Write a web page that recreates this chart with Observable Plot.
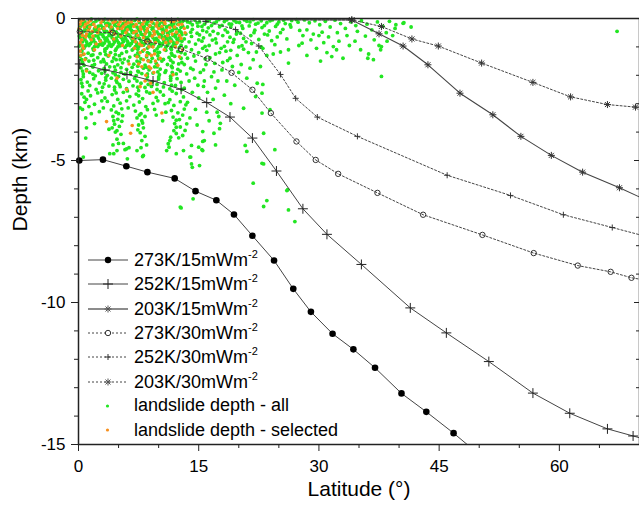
<!DOCTYPE html>
<html>
<head>
<meta charset="utf-8">
<script src="https://cdn.jsdelivr.net/npm/d3@7"></script>
<script src="https://cdn.jsdelivr.net/npm/@observablehq/plot@0.6"></script>
<style>
  body { margin: 0; background: white; }
  #wrap { position: relative; width: 639px; height: 506px; font-family: "Liberation Sans", Arial, sans-serif; }
  #legend { position: absolute; left: 86px; top: 248px; font-size: 18px; color: #000; }
  #legend .row { display: flex; align-items: center; height: 24.3px; white-space: nowrap; }
  #legend .row svg { width: 46px; height: 24px; flex: none; }
  #legend .row span.t { margin-left: 2px; }
  #legend sup { font-size: 11px; position: relative; top: -1px; }
</style>
</head>
<body>
<div id="wrap"><div id="legend"></div></div>
<script>
// ---- axis ticks ----
const xMajor = [0, 15, 30, 45, 60];
const xMinor = [5, 10, 20, 25, 35, 40, 50, 55, 65];
const yMajor = [0, -5, -10, -15];
const yMinor = [-1, -2, -3, -4, -6, -7, -8, -9, -11, -12, -13, -14];

// ---- model curves [latitude, depth km] ----
const s273K15 = [[0.1,-5],[3.05,-4.97],[5.97,-5.2],[8.6,-5.41],[12.0,-5.63],[14.6,-6.08],[17.2,-6.4],[19.4,-6.9],[21.7,-7.65],[24.4,-8.52],[26.8,-9.52],[29.0,-10.33],[31.7,-11.1],[34.3,-11.65],[37.0,-12.3],[40.3,-13.2],[43.4,-13.85],[46.8,-14.6],[50.2,-15.4]];
const s252K15 = [[0.16,-1.6],[3.3,-1.81],[6.05,-1.97],[9.3,-2.2],[12.8,-2.49],[16.0,-2.96],[18.9,-3.47],[21.7,-4.21],[24.7,-5.37],[28.0,-6.7],[31.0,-7.6],[35.3,-8.66],[41.4,-10.19],[45.9,-11.07],[51.2,-12.08],[56.7,-13.19],[61.3,-13.9],[66.0,-14.45],[69.2,-14.7],[70.5,-14.8]];
const s203K15 = [[0,-0.02],[34.1,-0.05],[37.5,-0.54],[40.5,-0.97],[43.6,-1.63],[47.6,-2.63],[51.7,-3.39],[55.2,-4.15],[59.0,-4.82],[62.9,-5.41],[67.5,-5.96],[70.5,-6.35]];
const s273K30 = [[0.16,-0.46],[4.27,-0.5],[8.6,-0.81],[12.8,-1.08],[16.1,-1.41],[19.1,-1.91],[21.7,-2.51],[24.0,-3.33],[27.2,-4.33],[29.6,-4.98],[32.4,-5.47],[37.3,-6.14],[43.0,-6.91],[50.4,-7.62],[56.8,-8.26],[62.3,-8.7],[66.4,-8.92],[69.0,-9.13],[70.5,-9.2]];
const s252K30 = [[0,-0.05],[11.6,-0.07],[15.9,-0.1],[19.6,-0.39],[22.5,-0.97],[25.2,-1.97],[27.1,-2.81],[29.8,-3.47],[34.8,-4.15],[46.0,-5.52],[53.9,-6.23],[60.5,-6.91],[66.6,-7.36],[70.5,-7.65]];
const s203K30 = [[0,-0.02],[34.1,-0.05],[37.8,-0.28],[41.6,-0.72],[44.9,-0.97],[50.3,-1.57],[56.7,-2.25],[61.4,-2.76],[66.0,-3.03],[69.5,-3.12],[70.5,-3.15]];

// ---- landslide depths ----
const landslideAll = [
[0.2,-0.05],[0.8,-0.12],[1.4,-0.07],[1.9,-0.15],[2.5,-0.04],[3.1,-0.1],[3.6,-0.16],[4.2,-0.06],[4.8,-0.13],[5.3,-0.03],[5.9,-0.11],[6.5,-0.17],[7.0,-0.07],[7.6,-0.14],[8.2,-0.05],[8.7,-0.1],[9.3,-0.16],[9.9,-0.06],[10.4,-0.12],[11.0,-0.04],[11.6,-0.15],[12.1,-0.08],[12.7,-0.13],
[0.5,-0.17],[1.6,-0.02],[2.2,-0.09],[3.3,-0.03],[3.9,-0.2],[4.5,-0.15],[5.6,-0.18],[6.2,-0.05],[7.3,-0.02],[7.9,-0.19],[8.4,-0.13],[9.6,-0.02],[10.1,-0.19],[10.7,-0.15],[11.3,-0.06],[11.9,-0.18],[12.4,-0.03],[13.0,-0.1],
[0.5,-0.22],[1.1,-0.28],[1.7,-0.2],[2.2,-0.31],[2.8,-0.24],[3.4,-0.19],[3.9,-0.29],[4.5,-0.23],[5.1,-0.32],[5.6,-0.2],[6.2,-0.27],[6.8,-0.22],[7.3,-0.3],[7.9,-0.25],[8.5,-0.19],[9.0,-0.28],[9.6,-0.23],[10.2,-0.31],[10.7,-0.21],[11.3,-0.26],[11.9,-0.3],[12.4,-0.2],[13.0,-0.27],
[0.2,-0.3],[0.8,-0.33],[1.4,-0.25],[2.0,-0.36],[2.5,-0.27],[3.1,-0.32],[3.7,-0.24],[4.2,-0.34],[4.8,-0.28],[5.4,-0.26],[5.9,-0.33],[6.5,-0.29],[7.0,-0.25],[7.6,-0.34],[8.2,-0.28],[8.8,-0.24],[9.3,-0.33],[9.9,-0.27],[10.5,-0.35],[11.0,-0.3],[11.6,-0.24],[12.2,-0.36],[12.8,-0.31],
[0.1,-0.37],[0.7,-0.44],[1.3,-0.35],[1.8,-0.46],[2.4,-0.39],[3.0,-0.34],[3.5,-0.45],[4.1,-0.38],[4.7,-0.47],[5.2,-0.36],[5.8,-0.42],[6.4,-0.35],[6.9,-0.46],[7.5,-0.4],[8.1,-0.34],[8.6,-0.44],[9.2,-0.38],[9.8,-0.47],[10.3,-0.36],[10.9,-0.41],[11.5,-0.45],[12.0,-0.35],[12.6,-0.42],
[0.4,-0.47],[1.0,-0.42],[1.5,-0.52],[2.1,-0.44],[2.6,-0.5],[3.2,-0.42],[3.8,-0.5],[4.3,-0.43],[4.9,-0.54],[5.5,-0.45],[6.0,-0.49],[6.6,-0.41],[7.2,-0.52],[7.7,-0.46],[8.3,-0.42],[8.9,-0.51],[9.4,-0.44],[10.0,-0.55],[10.5,-0.46],[11.1,-0.5],[11.7,-0.42],[12.2,-0.54],[12.8,-0.48],
[0.4,-0.52],[1.0,-0.59],[1.6,-0.5],[2.1,-0.61],[2.7,-0.54],[3.3,-0.49],[3.8,-0.6],[4.4,-0.53],[5.0,-0.62],[5.5,-0.51],[6.1,-0.57],[6.7,-0.5],[7.2,-0.61],[7.8,-0.55],[8.4,-0.49],[8.9,-0.59],[9.5,-0.53],[10.1,-0.62],[10.6,-0.51],[11.2,-0.56],[11.8,-0.6],[12.3,-0.5],[12.9,-0.57],
[0.1,-0.62],[0.7,-0.66],[1.3,-0.58],[1.8,-0.7],[2.4,-0.62],[3.0,-0.57],[3.5,-0.68],[4.1,-0.61],[4.7,-0.69],[5.2,-0.58],[5.8,-0.65],[6.3,-0.58],[6.9,-0.69],[7.4,-0.63],[8.0,-0.57],[8.6,-0.67],[9.1,-0.6],[9.7,-0.7],[10.3,-0.58],[10.8,-0.64],[11.4,-0.68],[12.0,-0.58],[12.6,-0.65],
[0.2,-0.67],[0.8,-0.74],[1.4,-0.65],[1.9,-0.76],[2.5,-0.69],[3.1,-0.64],[3.6,-0.75],[4.2,-0.68],[4.8,-0.77],[5.3,-0.66],[5.9,-0.72],[6.5,-0.65],[7.0,-0.76],[7.6,-0.7],[8.2,-0.64],[8.7,-0.74],[9.3,-0.68],[9.9,-0.77],[10.4,-0.66],[11.0,-0.71],[11.6,-0.75],[12.1,-0.65],[12.7,-0.72],
[0.4,-0.78],[1.0,-0.82],[1.6,-0.73],[2.1,-0.85],[2.7,-0.77],[3.3,-0.72],[3.8,-0.83],[4.4,-0.76],[5.0,-0.85],[5.5,-0.74],[6.1,-0.8],[6.7,-0.73],[7.2,-0.84],[7.8,-0.78],[8.4,-0.72],[8.9,-0.82],[9.5,-0.76],[10.1,-0.85],[10.6,-0.74],[11.2,-0.79],[11.8,-0.83],[12.3,-0.73],[12.9,-0.8],
[0.5,-0.82],[1.1,-0.89],[1.7,-0.8],[2.2,-0.91],[2.8,-0.84],[3.4,-0.79],[3.9,-0.9],[4.5,-0.83],[5.1,-0.92],[5.6,-0.81],[6.2,-0.87],[6.8,-0.8],[7.3,-0.91],[7.9,-0.85],[8.5,-0.79],[9.0,-0.89],[9.6,-0.83],[10.2,-0.92],[10.7,-0.81],[11.3,-0.86],[11.9,-0.9],[12.4,-0.8],
[0.2,-0.92],[0.9,-0.96],[1.5,-0.88],[2.0,-0.99],[2.6,-0.92],[3.2,-0.87],[3.7,-0.97],[4.3,-0.91],[4.9,-1.0],[5.4,-0.89],[6.0,-0.95],[6.6,-0.88],[7.1,-0.99],[7.7,-0.93],[8.3,-0.87],[8.8,-0.97],[9.4,-0.91],[10.0,-0.99],[10.5,-0.88],[11.1,-0.94],[11.7,-0.97],[12.2,-0.87],[12.8,-0.94],
[0.1,-0.97],[0.7,-1.04],[1.3,-0.95],[1.8,-1.06],[2.4,-0.99],[3.0,-0.94],[3.5,-1.05],[4.1,-0.98],[4.7,-1.07],[5.2,-0.96],[5.8,-1.02],[6.4,-0.95],[6.9,-1.06],[7.5,-1.0],[8.1,-0.94],[8.6,-1.04],[9.2,-0.98],[9.8,-1.07],[10.3,-0.96],[10.9,-1.01],[11.5,-1.05],[12.0,-0.95],[12.6,-1.02],
[0.4,-1.15],[1.2,-1.22],[1.9,-1.12],[2.7,-1.24],[3.3,-1.16],[4.0,-1.2],[4.6,-1.13],[5.4,-1.23],[6.0,-1.17],[6.7,-1.11],[7.4,-1.21],[8.0,-1.15],[8.8,-1.24],[9.5,-1.14],[10.1,-1.19],[10.9,-1.12],[11.6,-1.22],[12.4,-1.16],
[0.2,-1.34],[0.9,-1.41],[1.6,-1.3],[2.4,-1.38],[3.1,-1.44],[3.7,-1.32],[4.4,-1.39],[5.1,-1.31],[5.7,-1.43],[6.4,-1.36],[7.1,-1.3],[7.8,-1.42],[8.5,-1.35],[9.2,-1.4],[9.9,-1.31],[10.6,-1.44],[11.3,-1.37],[12.0,-1.33],[12.8,-1.4],
[0.5,-1.55],[1.3,-1.5],[2.0,-1.62],[2.8,-1.53],[3.5,-1.6],[4.2,-1.51],[4.9,-1.63],[5.5,-1.56],[6.2,-1.5],[6.9,-1.61],[7.6,-1.54],[8.3,-1.64],[9.0,-1.52],[9.7,-1.58],[10.4,-1.5],[11.1,-1.62],[11.8,-1.55],[12.5,-1.6],
[0.3,-1.74],[1.0,-1.8],[1.8,-1.71],[2.5,-1.84],[3.2,-1.76],[3.9,-1.7],[4.6,-1.82],[5.3,-1.73],[6.0,-1.79],[6.7,-1.72],[7.4,-1.85],[8.1,-1.75],[8.8,-1.81],[9.5,-1.7],[10.2,-1.78],[10.9,-1.84],[11.7,-1.73],[12.4,-1.79],
[0.6,-1.95],[1.4,-1.9],[2.1,-2.02],[2.9,-1.93],[3.6,-2.0],[4.3,-1.91],[5.0,-2.04],[5.8,-1.96],[6.5,-1.9],[7.2,-2.01],[7.9,-1.94],[8.6,-2.05],[9.3,-1.92],[10.1,-1.98],[10.8,-1.9],[11.5,-2.03],[12.2,-1.95],
[0.3,-2.15],[1.1,-2.24],[1.9,-2.12],[2.6,-2.27],[3.4,-2.17],[4.1,-2.1],[4.8,-2.25],[5.6,-2.14],[6.3,-2.21],[7.0,-2.11],[7.8,-2.28],[8.5,-2.16],[9.2,-2.23],[10.0,-2.13],[10.7,-2.26],[11.5,-2.18],[12.3,-2.12],
[0.5,-2.4],[1.4,-2.36],[2.2,-2.5],[3.0,-2.42],[3.8,-2.38],[4.5,-2.52],[5.2,-2.4],[6.0,-2.47],[6.8,-2.37],[7.5,-2.54],[8.3,-2.43],[9.1,-2.39],[9.8,-2.5],[10.6,-2.41],[11.4,-2.48],[12.1,-2.36],
[0.5,-1.07],[0.6,-1.26],[0.4,-1.45],[0.7,-1.65],[0.5,-1.85],[0.6,-2.05],[0.4,-2.28],[1.8,-1.28],[1.9,-1.47],[1.7,-1.66],[1.8,-1.96],[3.3,-1.08],[3.4,-1.27],[3.2,-1.52],[3.3,-1.85],[3.4,-2.08],[3.2,-2.3],[4.6,-1.27],[4.7,-1.45],[4.5,-1.7],[4.6,-1.98],[4.7,-2.18],[4.5,-2.42],[4.7,-2.62],[5.2,-1.45],[5.3,-1.9],[5.1,-2.32],
[7.4,-1.08],[7.5,-1.32],[7.3,-1.5],[7.4,-1.68],[7.5,-1.88],[7.3,-2.2],[7.4,-2.42],[7.5,-2.72],[8.6,-1.2],[8.7,-1.48],[8.5,-1.72],[8.6,-1.95],[8.7,-2.32],[8.5,-2.58],[9.9,-1.2],[10.0,-1.42],[9.8,-1.7],[9.9,-1.88],[10.0,-2.06],[9.8,-2.32],
[11.6,-1.09],[11.7,-1.29],[11.5,-1.47],[11.6,-1.68],[11.7,-1.9],[11.5,-2.1],[11.6,-2.35],[11.7,-2.56],[12.8,-1.2],[12.9,-1.55],[12.7,-1.85],[12.8,-2.25],[12.9,-2.5],
[0.4,-2.65],[1.5,-2.72],[2.4,-2.62],[3.3,-2.8],[4.2,-2.68],[4.9,-2.85],[5.6,-2.6],[6.4,-2.75],[7.2,-2.66],[8.0,-2.82],[8.9,-2.63],[9.7,-2.78],[10.6,-2.7],[11.4,-2.86],[12.2,-2.64],[13.1,-2.76],
[1.2,-2.55],[2.9,-2.58],[6.1,-2.55],[10.2,-2.58],[1.0,-2.85],[2.9,-2.9],[6.0,-2.9],[9.9,-2.9],[10.8,-3.0],[1.3,-3.1],[3.1,-3.15],[6.2,-3.15],[9.5,-3.2],[10.9,-3.3],[1.6,-3.35],
[0.8,-2.95],[2.0,-3.02],[3.6,-2.92],[4.4,-3.08],[5.2,-2.98],[6.9,-3.05],[7.6,-2.94],[8.4,-3.1],[11.2,-2.96],[11.9,-3.06],[12.7,-2.93],[13.4,-3.04],[9.3,-2.99],
[0.5,-3.2],[4.1,-3.22],[4.7,-3.3],[5.4,-3.18],[7.1,-3.26],[7.8,-3.35],[8.6,-3.21],[11.6,-3.24],[12.4,-3.32],[13.2,-3.19],[2.6,-3.28],
[4.3,-3.45],[4.9,-3.55],[5.5,-3.42],[7.3,-3.5],[7.9,-3.6],[11.8,-3.47],[12.6,-3.56],[13.0,-3.4],[0.9,-3.5],
[4.4,-3.6],[5.0,-3.35],[7.6,-3.4],[8.3,-3.45],[12.2,-3.58],[4.2,-3.85],[4.8,-3.95],[5.4,-3.62],[7.4,-3.92],[8.0,-3.68],[11.9,-3.95],[12.5,-4.2],[5.0,-4.4],[7.8,-4.55],[4.3,-4.45],[2.0,-3.7],[1.0,-3.85],[10.5,-3.6],[9.7,-3.4],
[4.5,-3.72],[5.1,-3.8],[7.5,-3.75],[8.1,-3.85],[12.0,-3.7],[12.7,-3.82],[3.8,-3.9],
[4.6,-4.0],[5.3,-4.08],[7.7,-4.02],[8.3,-4.15],[12.2,-4.05],[4.8,-4.25],[7.9,-4.3],[5.6,-4.4],[8.5,-4.45],[6.3,-4.55],
[13.3,-0.06],[13.9,-0.14],[14.5,-0.05],[15.1,-0.12],[15.7,-0.2],[16.3,-0.08],[16.9,-0.16],[17.5,-0.04],[18.2,-0.11],[18.8,-0.19],[19.4,-0.07],[20.1,-0.14],[20.7,-0.05],[21.4,-0.12],[22.1,-0.2],[22.8,-0.08],[23.5,-0.15],[24.2,-0.05],[25.0,-0.12],[25.8,-0.18],[26.6,-0.07],[27.4,-0.13],
[13.6,-0.12],[14.2,-0.22],[14.8,-0.15],[15.4,-0.28],[16.0,-0.1],[16.6,-0.25],[17.2,-0.12],[17.9,-0.24],[18.5,-0.05],[19.1,-0.2],[19.7,-0.13],[20.4,-0.26],[21.0,-0.1],[21.8,-0.04],[22.4,-0.16],[23.2,-0.25],[23.9,-0.08],[24.8,-0.2],[25.6,-0.06],[26.4,-0.22],[27.2,-0.04],
[13.6,-0.3],[14.2,-0.38],[14.9,-0.27],[15.5,-0.42],[16.2,-0.33],[16.8,-0.45],[17.6,-0.29],[18.3,-0.4],[19.0,-0.3],[19.8,-0.47],[20.5,-0.35],[21.3,-0.26],[22.0,-0.41],[22.9,-0.32],[23.8,-0.44],[24.6,-0.28],[25.5,-0.38],[26.5,-0.3],[27.6,-0.42],
[14.0,-0.48],[15.1,-0.58],[16.0,-0.47],[17.4,-0.53],[18.6,-0.48],[19.4,-0.74],[20.2,-0.52],[21.9,-0.5],[23.2,-0.55],[24.1,-0.78],[25.2,-0.5],
[13.4,-0.55],[14.1,-0.63],[14.8,-0.52],[15.6,-0.68],[16.4,-0.58],[17.1,-0.72],[18.0,-0.6],[18.9,-0.66],[19.7,-0.55],[20.6,-0.7],[21.5,-0.6],[22.5,-0.74],[23.6,-0.58],[24.8,-0.65],[26.0,-0.72],
[13.2,-0.72],[15.0,-0.75],[16.7,-0.76],[18.6,-0.82],[20.9,-0.82],[13.4,-1.0],[15.8,-0.98],[17.8,-1.05],[19.0,-1.12],[20.6,-1.08],[22.2,-1.18],
[13.8,-0.82],[14.6,-0.9],[15.4,-0.8],[16.3,-0.95],[17.2,-0.86],[18.2,-0.98],[19.3,-0.84],[20.4,-0.96],[21.6,-0.88],[22.8,-1.0],[24.5,-0.92],
[14.1,-1.1],[15.0,-1.2],[16.0,-1.12],[17.1,-1.25],[18.4,-1.15],[19.8,-1.3],[21.2,-1.2],[23.5,-1.3],[25.2,-1.18],
[13.6,-1.4],[14.6,-1.5],[15.8,-1.42],[17.0,-1.58],[18.6,-1.48],[20.3,-1.62],[14.0,-1.75],[15.2,-1.9],[16.6,-2.05],[13.8,-2.2],[14.9,-2.35],[16.1,-2.6],[18.5,-2.2],
[13.3,-1.25],[14.4,-1.32],[15.5,-1.05],[16.4,-1.38],[17.6,-1.2],[18.9,-1.4],[20.0,-1.0],[21.8,-1.45],[23.0,-1.05],[24.3,-1.25],[13.2,-1.62],[14.3,-1.8],[15.9,-1.62],[16.9,-1.88],[18.0,-1.55],[20.0,-1.9],[21.0,-2.1],[13.5,-1.95],[14.5,-2.1],[15.7,-2.2],[17.4,-2.2],[19.5,-2.35],
[13.2,-2.45],[14.2,-2.6],[15.0,-2.8],[16.8,-2.85],[18.2,-2.7],[19.0,-3.0],[13.6,-2.95],[14.6,-3.2],[16.0,-3.3],[13.9,-3.5],[14.8,-3.75],[16.3,-3.6],
[28.2,-0.05],[28.8,-0.15],[29.5,-0.08],[30.1,-0.22],[30.8,-0.1],[31.4,-0.3],[32.0,-0.06],[32.7,-0.18],[33.3,-0.35],[34.0,-0.12],[34.6,-0.25],[35.3,-0.08],[36.0,-0.2],[36.6,-0.4],[37.3,-0.12],[38.0,-0.28],[38.8,-0.1],[39.6,-0.22],
[28.5,-0.4],[29.3,-0.55],[30.4,-0.48],[31.2,-0.65],[32.3,-0.5],[33.5,-0.6],[34.8,-0.45],[35.8,-0.62],[29.0,-0.75],[30.6,-0.85],[32.5,-0.8],[29.7,-1.05],[31.0,-1.2],[33.8,-0.95],[36.9,-0.75],[37.5,-0.95],[38.4,-0.5],[39.2,-0.6],[40.6,-0.15],[41.5,-0.3],[36.2,-1.25],[36.8,-1.45],[37.7,-1.1],
[32.2,-1.1],[33.0,-1.4],[34.5,-0.8],[35.2,-1.1],[38.5,-0.8],[39.5,-0.35],[30.0,-0.6],[28.0,-0.6],[27.5,-0.95],[28.5,-1.3],[30.2,-1.5],
[26.2,-1.57],[21.4,-1.75],[22.7,-1.69],[19.2,-1.69],[17.1,-2.45],[17.9,-1.81],[15.6,-1.81],[15.6,-2.39],[22.3,-2.28],[23.0,-2.32],[22.9,-2.63],[22.1,-2.75],[20.6,-3.16],[23.9,-3.21],[22.9,-3.33],[17.5,-3.45],[17.7,-3.69],[16.9,-4.04],[15.5,-3.98],[15.5,-4.33],[15.4,-4.62],[17.1,-4.45],[23.1,-4.04],[21.0,-4.68],[22.9,-5.1],[24.5,-4.62],[21.8,-5.8],[23.1,-6.62],[26.2,-6.74],[27.0,-7.15],[26.1,-6.03],[31.8,-0.99],[31.6,-1.34],[36.1,-1.4],[37.8,-0.99],[37.8,-2.04],[40.5,-0.17],[26.2,-1.1],[27.9,-0.87],
[0.9,-4.21],[0.2,-3.15],[0.7,-2.77],[4.4,-4.76],[5.8,-4.62],[6.1,-4.94],[8.0,-4.86],[11.3,-4.53],[11.5,-4.18],[12.7,-6.64],[14.0,-4.88],[14.2,-5.24],[15.0,-4.53],[17.3,-3.3],[17.6,-3.88],[20.8,-4.47],[23.1,-5.12],[23.5,-6.41],[26.0,-6.06],[0.6,-4.88],[3.9,-4.76],[4.8,-4.65],[6.0,-4.59],[7.3,-4.65],[8.1,-4.82],[11.0,-4.65],[11.2,-4.41],[11.4,-4.3],[12.2,-4.76],[13.1,-4.65],[13.9,-4.88],[14.1,-5.12],[15.1,-5.18],[15.5,-4.65],[14.3,-6.35],[12.8,-6.67],[12.2,-3.83],[13.0,-4.12],[13.3,-3.94],[13.5,-3.71],[14.1,-4.47],[15.7,-4.3],[67.2,-0.45]
];
const landslideSelected = [
[0.3,-0.1],[0.9,-0.2],[1.5,-0.08],[2.1,-0.3],[2.8,-0.15],[3.5,-0.25],[4.6,-0.1],[5.4,-0.35],[6.2,-0.15],[6.9,-0.28],[7.5,-0.08],[8.0,-0.2],[8.6,-0.35],[9.1,-0.12],[9.7,-0.26],[10.3,-0.06],[10.8,-0.18],[11.4,-0.32],[11.9,-0.1],[12.5,-0.22],
[1.2,-0.42],[2.4,-0.5],[3.0,-0.06],[4.0,-0.45],[5.0,-0.22],[5.9,-0.5],[7.2,-0.45],[8.3,-0.55],[9.4,-0.45],[10.5,-0.5],[11.1,-0.6],[12.2,-0.48],[0.5,-0.6],[0.2,-0.85],[0.6,-1.05],[0.3,-1.3],[0.8,-1.45],[1.6,-0.75],[2.7,-0.8],
[6.8,-0.7],[7.6,-0.9],[8.2,-1.1],[8.9,-0.8],[9.5,-1.25],[7.3,-1.35],[8.7,-1.5],[9.9,-1.65],[7.9,-1.7],[8.4,-2.0],[9.0,-2.28],[11.5,-0.8],[12.1,-1.0],[11.8,-1.98],[10.7,-1.1],[4.8,-2.1],[3.8,-1.3],[5.5,-0.95],[6.3,-1.6],
[10.4,-3.33],[6.7,-3.77],[3.5,-3.63],[6.5,-4.04],[13.2,-0.35],[12.8,-0.7],[2.0,-1.1],[1.0,-1.85],[6.0,-2.5],[9.3,-2.6],
[0.1,-0.35],[0.4,-0.75],[1.0,-0.55],[1.8,-0.62],[2.2,-0.9],[2.6,-0.38],[7.8,-0.38],[8.1,-0.68],[8.8,-1.0],[9.2,-0.62],[9.6,-0.85],[10.0,-0.35],[10.2,-1.4],[10.6,-0.72],[11.0,-0.42],[7.0,-1.05],[7.7,-1.2],[8.5,-1.3],[9.0,-1.75],[3.2,-0.35],[4.3,-0.15],[5.7,-0.08],
[0.2,-0.2],[0.6,-0.05],[0.7,-0.3],[1.2,-0.15],[1.4,-0.3],[0.3,-0.5],[0.9,-0.65],[1.7,-0.45],[1.9,-0.2],[0.5,-0.95],[0.2,-1.15],[0.7,-1.25],
[3.8,-0.05],[4.1,-0.3],[4.5,-0.55],[4.9,-0.35],[5.2,-0.12],[5.6,-0.28],[5.9,-0.2],[4.4,-0.72],[5.3,-0.62],[6.1,-0.4],
[6.6,-0.12],[6.9,-0.5],[7.2,-0.2],[7.4,-0.6],[7.7,-0.3],[8.2,-0.1],[8.5,-0.45],[8.9,-0.25],[9.2,-0.05],[9.5,-0.55],[9.8,-0.15],[10.1,-0.65],[10.4,-0.28],[10.7,-0.1],[10.9,-0.85],[7.1,-0.82],[7.9,-0.95],[8.4,-0.82],[9.3,-1.0],[9.1,-1.3],[8.1,-1.45],[7.5,-1.6],[9.6,-1.5],[8.8,-1.7],[9.4,-1.9],[8.3,-2.2],[7.7,-2.4],
[11.6,-0.1],[12.0,-0.3],[12.4,-0.05],[12.9,-0.2],[13.3,-0.5],[12.6,-0.6],[11.7,-0.55],[12.3,-0.85],[13.0,-1.1],[12.6,-1.35]
];

const legendLabels = ["273K/15mWm", "252K/15mWm", "203K/15mWm", "273K/30mWm", "252K/30mWm", "203K/30mWm", "landslide depth - all", "landslide depth - selected"];

const GREEN = "#22e622", ORANGE = "#f7901e", LINE = "#444";
const X = d => d[0], Y = d => d[1];
const inFrame = d => d[0] >= 0.1 && d[0] <= 69.6 && d[1] >= -15;
const dotted = "2,2";

const chart = Plot.plot({
  width: 639, height: 506,
  marginLeft: 78, marginRight: 0, marginTop: 18, marginBottom: 62,
  x: {domain: [0, 70], axis: null},
  y: {domain: [-15, 0], axis: null},
  style: {fontFamily: "'Liberation Sans', Arial, sans-serif", fontSize: "17px", color: "black", background: "white", overflow: "visible"},
  marks: [
    Plot.dot(landslideAll, {x: X, y: Y, r: 1.9, fill: GREEN}),
    Plot.dot(landslideSelected, {x: X, y: Y, r: 1.8, fill: ORANGE}),
    Plot.line(s273K15, {x: X, y: Y, stroke: LINE, strokeWidth: 1, clip: true}),
    Plot.line(s252K15, {x: X, y: Y, stroke: LINE, strokeWidth: 1, clip: true}),
    Plot.line(s203K15, {x: X, y: Y, stroke: LINE, strokeWidth: 1.1, clip: true}),
    Plot.line(s273K30, {x: X, y: Y, stroke: LINE, strokeWidth: 1, strokeDasharray: dotted, clip: true}),
    Plot.line(s252K30, {x: X, y: Y, stroke: LINE, strokeWidth: 1, strokeDasharray: dotted, clip: true}),
    Plot.line(s203K30, {x: X, y: Y, stroke: LINE, strokeWidth: 1, strokeDasharray: dotted, clip: true}),
    Plot.dot(s273K15.filter(inFrame), {x: X, y: Y, r: 3.3, fill: "black", stroke: "none"}),
    Plot.dot(s252K15.filter(inFrame), {x: X, y: Y, symbol: "plus", r: 3.3, stroke: "#222", strokeWidth: 1}),
    Plot.dot(s203K15.filter(inFrame), {x: X, y: Y, symbol: "plus", r: 2.4, stroke: "#333", strokeWidth: 1}),
    Plot.dot(s203K15.filter(inFrame), {x: X, y: Y, symbol: "times", r: 2.4, stroke: "#333", strokeWidth: 1}),
    Plot.dot(s273K30.filter(inFrame), {x: X, y: Y, r: 2.7, fill: "none", stroke: "#333", strokeWidth: 1}),
    Plot.dot(s252K30.filter(inFrame), {x: X, y: Y, symbol: "plus", r: 2.1, stroke: "#333", strokeWidth: 1}),
    Plot.dot(s203K30.filter(inFrame), {x: X, y: Y, symbol: "plus", r: 2.4, stroke: "#333", strokeWidth: 1}),
    Plot.dot(s203K30.filter(inFrame), {x: X, y: Y, symbol: "times", r: 2.4, stroke: "#333", strokeWidth: 1}),
    Plot.frame({stroke: "#222", strokeWidth: 1.5}),
    Plot.axisX(xMajor, {anchor: "bottom", tickSize: 7, tickPadding: 8, fontSize: 17, label: null, tickFormat: d => `${d}`, stroke: "#222"}),
    Plot.axisX(xMinor, {anchor: "bottom", tickSize: 4, label: null, tickFormat: () => "", stroke: "#222"}),
    Plot.axisY(yMajor, {anchor: "left", tickSize: 7, tickPadding: 6, fontSize: 17, label: null, tickFormat: d => `${d}`, stroke: "#222"}),
    Plot.axisY(yMinor, {anchor: "left", tickSize: 4, label: null, tickFormat: () => "", stroke: "#222"}),
    Plot.axisY(yMajor, {anchor: "right", tickSize: 6, dx: -6, label: null, tickFormat: () => "", stroke: "#222"}),
    Plot.axisY(yMinor, {anchor: "right", tickSize: 4, dx: -4, label: null, tickFormat: () => "", stroke: "#222"}),
    Plot.text(["Latitude (°)"], {text: d => d, frameAnchor: "bottom", dy: 51, fontSize: 21}),
    Plot.text(["Depth (km)"], {text: d => d, frameAnchor: "left", dx: -58, rotate: -90, fontSize: 21})
  ]
});
const wrap = document.getElementById("wrap");
wrap.insertBefore(chart, wrap.firstChild);

// ---- legend (HTML overlay) ----
const sampleSvgs = [
  `<path d="M2,12H42" stroke="${LINE}" stroke-width="1"/><circle cx="22" cy="12" r="3.2" fill="black"/>`,
  `<path d="M2,12H42" stroke="${LINE}" stroke-width="1"/><path d="M17,12H27M22,7V17" stroke="#222" stroke-width="1"/>`,
  `<path d="M2,12H42" stroke="#666" stroke-width="1.3"/><path d="M18.5,12H25.5M22,8.5V15.5M19.5,9.5L24.5,14.5M19.5,14.5L24.5,9.5" stroke="#555" stroke-width="1"/>`,
  `<path d="M2,12H42" stroke="${LINE}" stroke-width="1" stroke-dasharray="2,2"/><circle cx="22" cy="12" r="2.7" fill="white" stroke="#333" stroke-width="1"/>`,
  `<path d="M2,12H42" stroke="${LINE}" stroke-width="1" stroke-dasharray="2,2"/><path d="M19,12H25M22,9V15" stroke="#333" stroke-width="1"/>`,
  `<path d="M2,12H42" stroke="${LINE}" stroke-width="1" stroke-dasharray="2,2"/><path d="M18.5,12H25.5M22,8.5V15.5M19.5,9.5L24.5,14.5M19.5,14.5L24.5,9.5" stroke="#555" stroke-width="1"/>`,
  `<circle cx="21.5" cy="12" r="1.6" fill="${GREEN}"/>`,
  `<circle cx="21.5" cy="12" r="1.6" fill="${ORANGE}"/>`
];
const legend = document.getElementById("legend");
legendLabels.forEach((lab, i) => {
  const row = document.createElement("div");
  row.className = "row";
  const sup = i < 6 ? "<sup>-2</sup>" : "";
  row.innerHTML = `<svg viewBox="0 0 46 24">${sampleSvgs[i]}</svg><span class="t">${lab}${sup}</span>`;
  legend.appendChild(row);
});
</script>
</body>
</html>
